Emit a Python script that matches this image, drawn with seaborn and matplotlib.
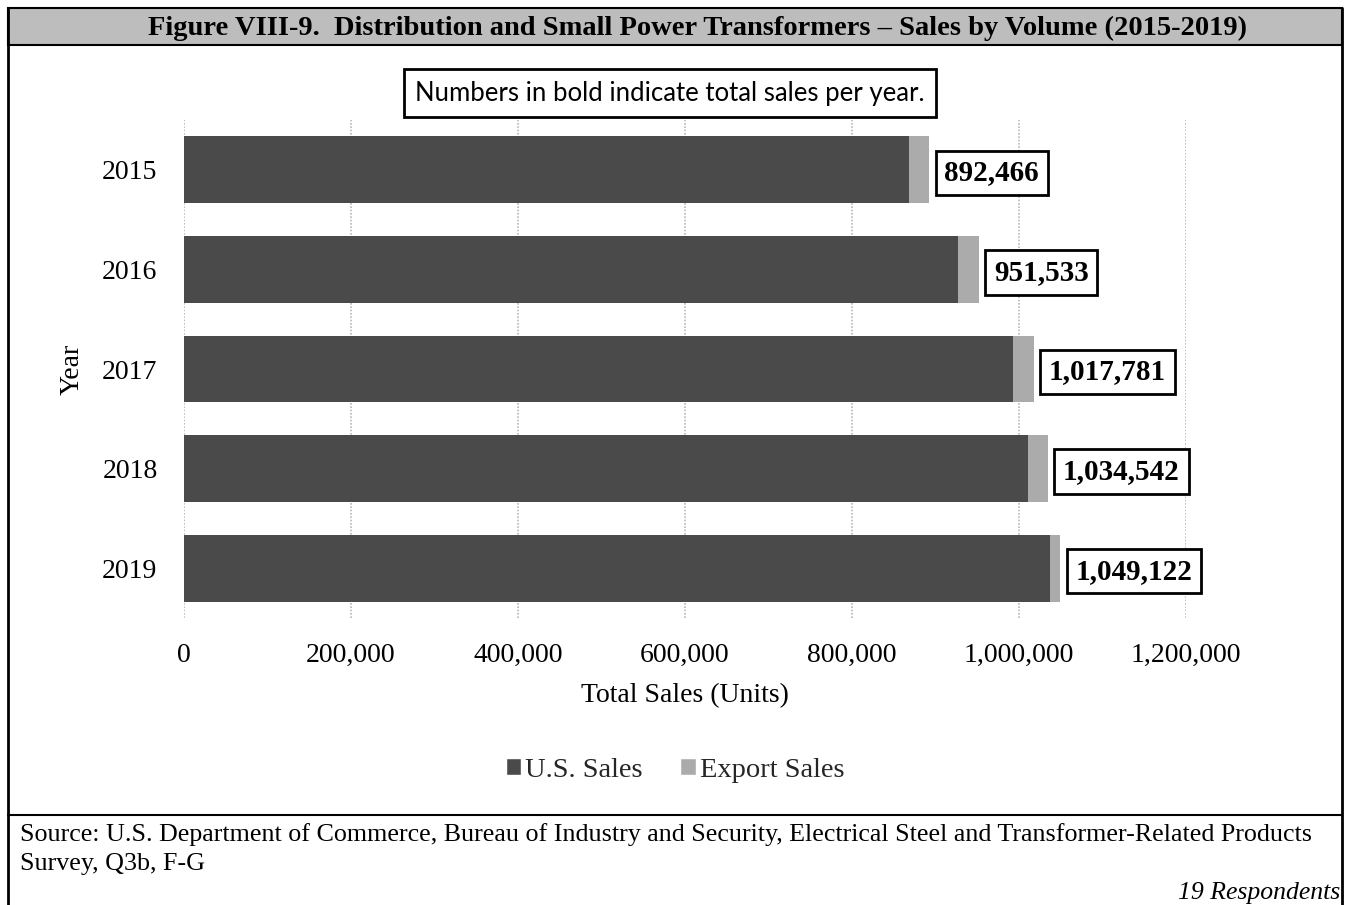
import matplotlib
matplotlib.use("Agg")
import matplotlib.pyplot as plt
import seaborn as sns
import pandas as pd
from matplotlib.patches import Rectangle
from matplotlib.lines import Line2D
from matplotlib.ticker import FuncFormatter

years = ["2015", "2016", "2017", "2018", "2019"]
us_sales = [868000, 926800, 992800, 1010800, 1037000]
total_sales = [892466, 951533, 1017781, 1034542, 1049122]
x_ticks = [0, 200000, 400000, 600000, 800000, 1000000, 1200000]

title = "Figure VIII-9.  Distribution and Small Power Transformers \u2013 Sales by Volume (2015-2019)"
note = "Numbers in bold indicate total sales per year."
source = ("Source: U.S. Department of Commerce, Bureau of Industry and Security, Electrical Steel and Transformer-Related Products\n"
          "Survey, Q3b, F-G")
respondents = "19 Respondents"

US_COLOR = "#4a4a4a"
EXP_COLOR = "#ababab"
BANNER = "#bdbdbd"

sns.set_theme(style="white")
plt.rcParams["font.family"] = ["Liberation Serif", "DejaVu Serif"]

df = pd.DataFrame({"Year": years, "US": us_sales, "Total": total_sales})

W, H = 1346, 905
fig = plt.figure(figsize=(W / 100, H / 100), dpi=100)
ax = fig.add_axes([184 / W, 1 - 618 / H, (1186 - 184) / W, (618 - 120) / H])

sns.barplot(data=df, x="Total", y="Year", orient="h", color=EXP_COLOR,
            width=0.67, ax=ax, saturation=1, linewidth=0)
sns.barplot(data=df, x="US", y="Year", orient="h", color=US_COLOR,
            width=0.67, ax=ax, saturation=1, linewidth=0)

ax.set_xlim(0, 1200000)
ax.set_xticks(x_ticks)
ax.xaxis.set_major_formatter(FuncFormatter(lambda v, p: f"{int(v):,}"))
ax.grid(axis="x", color="#b8b8b8", linestyle=(0, (1, 1)), linewidth=1.2)
ax.set_axisbelow(True)
for s in ax.spines.values():
    s.set_visible(False)
ax.tick_params(axis="both", length=0, labelsize=20, colors="black")
ax.tick_params(axis="y", pad=19)
ax.tick_params(axis="x", pad=18)
ax.set_xlabel("Total Sales (Units)", fontsize=20, labelpad=11, color="black")
ax.set_ylabel("Year", fontsize=20, labelpad=13, color="black")

for i, t in enumerate(total_sales):
    ax.annotate(f"{t:,}", xy=(t, i), xytext=(11, 0), textcoords="offset points",
                ha="left", va="center_baseline", fontsize=21, fontweight="bold", color="black",
                bbox=dict(boxstyle="square,pad=0.3", fc="white", ec="black", lw=2))

# Legend
handles = [Rectangle((0, 0), 1, 1, fc=US_COLOR), Rectangle((0, 0), 1, 1, fc=EXP_COLOR)]
fig.legend(handles, ["U.S. Sales", "Export Sales"], loc="center",
           bbox_to_anchor=(675 / W, 1 - 770 / H), ncol=2, frameon=False,
           fontsize=20.5, handlelength=0.55, handleheight=0.55, handletextpad=0.15,
           columnspacing=1.3)

# Frame and title banner
fig.add_artist(Rectangle((8 / W, 1 - 45 / H), (1342 - 8) / W, (45 - 8) / H,
                         transform=fig.transFigure, fc=BANNER, ec="black", lw=1.5))
fig.text(697 / W, 1 - 28 / H, title, ha="center", va="center",
         fontsize=20.5, fontweight="bold", color="black")
fig.add_artist(Line2D([8 / W, 8 / W], [0, 1 - 8 / H], transform=fig.transFigure,
                      color="black", lw=2))
fig.add_artist(Line2D([1342 / W, 1342 / W], [0, 1 - 8 / H], transform=fig.transFigure,
                      color="black", lw=2))
fig.add_artist(Line2D([8 / W, 1342 / W], [1 - 815 / H, 1 - 815 / H], transform=fig.transFigure,
                      color="black", lw=1.5))

# Note box
fig.text(670 / W, 1 - 93 / H, note, ha="center", va="center", fontsize=18.5,
         family=["Lato", "DejaVu Sans"], color="black",
         bbox=dict(boxstyle="square,pad=0.45", fc="white", ec="black", lw=2))

# Source text
fig.text(20 / W, 1 - 849 / H, source, ha="left", va="center", fontsize=18.7,
         color="black", linespacing=1.4)
fig.text(1340 / W, 1 - 893 / H, respondents, ha="right", va="center", fontsize=18.5,
         style="italic", color="black")

fig.savefig("out.png", dpi=100)
